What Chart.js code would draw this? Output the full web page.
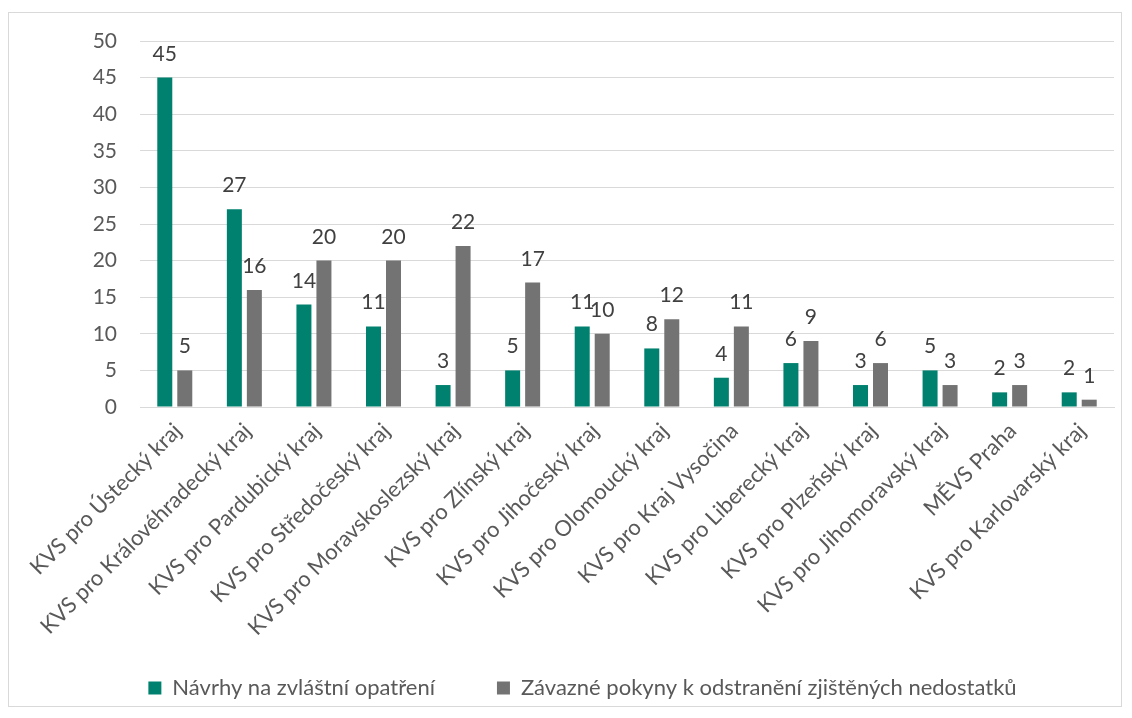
<!DOCTYPE html>
<html>
<head>
<meta charset="utf-8">
<script src="https://cdn.jsdelivr.net/npm/chart.js@4"></script>
<style>
  html, body { margin: 0; padding: 0; background: #fff; }
  #frame {
    position: absolute; left: 8px; top: 12px;
    width: 1112px; height: 693px;
    border: 1px solid #d9d9d9;
  }
  #frame canvas { display: block; }
</style>
</head>
<body>
<div id="frame"><canvas id="kvsChart" width="1112" height="693"></canvas></div>
<script>
// kategorie (krajske veterinarni spravy)
const categories = [
  'KVS pro Ústecký kraj', 'KVS pro Královéhradecký kraj', 'KVS pro Pardubický kraj',
  'KVS pro Středočeský kraj', 'KVS pro Moravskoslezský kraj', 'KVS pro Zlínský kraj',
  'KVS pro Jihočeský kraj', 'KVS pro Olomoucký kraj', 'KVS pro Kraj Vysočina',
  'KVS pro Liberecký kraj', 'KVS pro Plzeňský kraj', 'KVS pro Jihomoravský kraj',
  'MĚVS Praha', 'KVS pro Karlovarský kraj'
];
const navrhy  = [45, 27, 14, 11, 3, 5, 11, 8, 4, 6, 3, 5, 2, 2];
const pokyny  = [5, 16, 20, 20, 22, 17, 10, 12, 11, 9, 6, 3, 3, 1];
const seriesNames = ['Návrhy na zvláštní opatření', 'Závazné pokyny k odstranění zjištěných nedostatků'];
const yTicks = [0, 5, 10, 15, 20, 25, 30, 35, 40, 45, 50];

const FONT = 'Lato, "Open Sans", sans-serif';

// hodnoty nad sloupci
const valueLabels = {
  id: 'valueLabels',
  afterDatasetsDraw(chart) {
    const ctx = chart.ctx;
    ctx.save();
    ctx.font = '21px ' + FONT;
    ctx.fillStyle = '#404040';
    ctx.textAlign = 'center';
    ctx.textBaseline = 'alphabetic';
    chart.data.datasets.forEach(function(ds, i) {
      chart.getDatasetMeta(i).data.forEach(function(bar, j) {
        ctx.fillText(String(ds.data[j]), bar.x, bar.y - 17);
      });
    });
    ctx.restore();
  }
};

// popisky osy x a legenda se nesmi orezat -> pasy protahnout az dolu
// legenda je v originale trochu vpravo od stredu
const unclip = {
  id: 'unclip',
  afterLayout(chart) {
    chart.scales.x.bottom = chart.height;
    if (chart.legend) {
      chart.legend.bottom = chart.height;
      chart.legend.left += 42;
    }
  }
};

new Chart(document.getElementById('kvsChart'), {
  type: 'bar',
  data: {
    labels: categories,
    datasets: [
      { label: seriesNames[0], data: navrhy, backgroundColor: '#00806e',
        categoryPercentage: 0.575, barPercentage: 0.75 },
      { label: seriesNames[1], data: pokyny, backgroundColor: '#737373',
        categoryPercentage: 0.575, barPercentage: 0.75 }
    ]
  },
  plugins: [valueLabels, unclip],
  options: {
    responsive: false,
    animation: false,
    devicePixelRatio: 1,
    layout: { padding: { left: 0, right: 7, top: 28, bottom: 51 } },
    plugins: {
      tooltip: { enabled: false },
      legend: {
        position: 'bottom',
        maxHeight: 40,
        labels: {
          font: { family: FONT, size: 22 },
          color: '#595959',
          boxWidth: 13, boxHeight: 13,
          padding: 62
        }
      }
    },
    scales: {
      x: {
        grid: { display: false },
        border: { color: '#d9d9d9', width: 1 },
        ticks: {
          font: { family: FONT, size: 22 },
          color: '#595959',
          minRotation: 45, maxRotation: 45,
          labelOffset: 3,
          autoSkip: false
        },
        afterFit(scale) { scale.height = 208; }
      },
      y: {
        min: 0, max: 50,
        afterBuildTicks(scale) { scale.ticks = yTicks.map(v => ({ value: v })); },
        grid: { color: '#d9d9d9', drawTicks: false },
        border: { display: false },
        ticks: {
          font: { family: FONT, size: 21 },
          color: '#595959',
          padding: 23
        },
        afterFit(scale) {
          scale.width = 131;
          scale.paddingTop = 0;
          scale.paddingBottom = 0;
        }
      }
    }
  }
});
</script>
</body>
</html>
